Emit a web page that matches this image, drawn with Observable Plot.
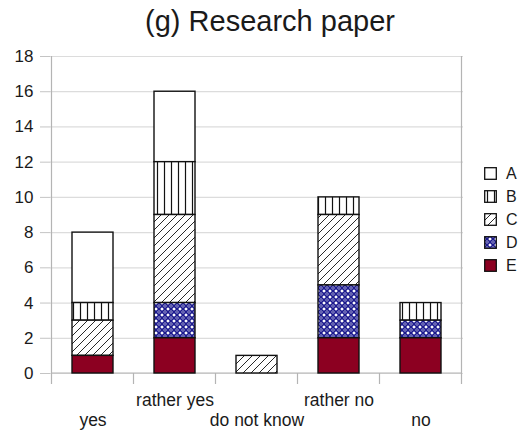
<!DOCTYPE html>
<html>
<head>
<meta charset="utf-8">
<script src="https://cdn.jsdelivr.net/npm/d3@7"></script>
<script src="https://cdn.jsdelivr.net/npm/@observablehq/plot@0.6"></script>
<style>
  html, body { margin: 0; padding: 0; background: #fff; }
  #chart { position: relative; width: 524px; height: 436px; font-family: "Liberation Sans", Arial, sans-serif; color: #1a1a1a; }
  #title { position: absolute; left: 8px; top: 3px; width: 524px; text-align: center; font-size: 29px; line-height: 36px; }
  #legend { position: absolute; left: 484px; top: 162px; font-size: 16px; }
  #legend .item { display: flex; align-items: center; height: 23px; }
  #legend svg { margin-right: 9px; }
</style>
</head>
<body>
<svg width="0" height="0" style="position:absolute">
  <defs>
    <pattern id="pat-B" patternUnits="userSpaceOnUse" width="7" height="10">
      <rect width="7" height="10" fill="#fff"/>
      <line x1="3.5" y1="0" x2="3.5" y2="10" stroke="#111" stroke-width="1.2"/>
    </pattern>
    <pattern id="pat-C" patternUnits="userSpaceOnUse" width="8" height="8">
      <rect width="8" height="8" fill="#fff"/>
      <path d="M0,8L8,0M-2,2L2,-2M6,10L10,6" stroke="#111" stroke-width="0.9"/>
    </pattern>
    <pattern id="pat-D" patternUnits="userSpaceOnUse" width="6" height="6">
      <rect width="6" height="6" fill="#fff"/>
      <path d="M0,0L6,6M6,0L0,6" stroke="#1c1a8e" stroke-width="1.7"/>
      <circle cx="3" cy="0" r="0.9" fill="#1c1a8e"/>
      <circle cx="3" cy="6" r="0.9" fill="#1c1a8e"/>
    </pattern>
  </defs>
</svg>
<div id="chart">
  <div id="title">(g) Research paper</div>
  <div id="legend"></div>
</div>
<script>
// Answers on the x axis, and the five respondent series stacked in each bar
const answers = ["yes", "rather yes", "do not know", "rather no", "no"];
const series = ["A", "B", "C", "D", "E"];
const seriesA = [4, 4, 0, 0, 0];
const seriesB = [1, 3, 0, 1, 1];
const seriesC = [2, 5, 1, 4, 0];
const seriesD = [0, 2, 0, 3, 1];
const seriesE = [1, 2, 0, 2, 2];
const yTicks = [0, 2, 4, 6, 8, 10, 12, 14, 16, 18];

const fills = {A: "#ffffff", B: "url(#pat-B)", C: "url(#pat-C)", D: "url(#pat-D)", E: "#8c0021"};
const valuesBySeries = {A: seriesA, B: seriesB, C: seriesC, D: seriesD, E: seriesE};

const rows = series.flatMap(s =>
  answers.map((a, i) => ({answer: a, series: s, count: valuesBySeries[s][i]}))
).filter(d => d.count > 0);

// Axis frame: left and right vertical lines, plus the separators between answers
function frameLines(index, scales) {
  const {x, y} = scales;
  const bw = x.bandwidth ? x.bandwidth() : 0;
  const step = x(answers[1]) - x(answers[0]);
  const centers = answers.map(a => x(a) + bw / 2);
  const bounds = centers.map(c => c - step / 2).concat([centers[centers.length - 1] + step / 2]);
  const y0 = y(0), yTop = y(d3.max(yTicks));
  const g = d3.create("svg:g").attr("stroke", "#b4b4b4").attr("stroke-width", 1.2);
  bounds.forEach((b, i) => {
    const edge = i === 0 || i === bounds.length - 1;
    g.append("line")
      .attr("x1", b).attr("x2", b)
      .attr("y1", edge ? yTop : y0).attr("y2", y0 + 11);
  });
  g.append("line").attr("x1", bounds[0]).attr("x2", bounds[bounds.length - 1]).attr("y1", y0).attr("y2", y0);
  return g.node();
}

const plot = Plot.plot({
  width: 524,
  height: 436,
  marginLeft: 50,
  marginRight: 61,
  marginTop: 56,
  marginBottom: 63,
  style: {fontFamily: "Liberation Sans, Arial, sans-serif", color: "#1a1a1a", background: "transparent"},
  x: {domain: answers, paddingInner: 0.5, paddingOuter: 0.25, axis: null},
  y: {domain: [0, 18], axis: null},
  color: {type: "identity"},
  marks: [
    Plot.gridY(yTicks, {stroke: "#dcdcdc", strokeOpacity: 1, strokeWidth: 1.2}),
    Plot.axisY(yTicks, {tickSize: 10, tickPadding: 7, fontSize: 17, stroke: "#c4c4c4", label: null, fill: "#1a1a1a"}),
    frameLines,
    Plot.barY(rows, Plot.stackY({
      x: "answer",
      y: "count",
      z: "series",
      order: ["E", "D", "C", "B", "A"],
      fill: d => fills[d.series],
      stroke: "#111",
      strokeWidth: 1.4
    })),
    Plot.text(answers.filter((a, i) => i % 2 === 1), {x: d => d, frameAnchor: "bottom", lineAnchor: "bottom", dy: 32, fontSize: 17.5, fill: "#1a1a1a"}),
    Plot.text(answers.filter((a, i) => i % 2 === 0), {x: d => d, frameAnchor: "bottom", lineAnchor: "bottom", dy: 52, fontSize: 17.5, fill: "#1a1a1a"})
  ]
});

const chart = document.getElementById("chart");
chart.insertBefore(plot, chart.firstChild);
plot.style.position = "absolute";
plot.style.left = "0";
plot.style.top = "0";

// Legend, listed top to bottom A..E
const legend = d3.select("#legend");
series.forEach(s => {
  const item = legend.append("div").attr("class", "item");
  const sw = item.append("svg").attr("width", 13).attr("height", 13);
  sw.append("rect").attr("x", 0.7).attr("y", 0.7).attr("width", 11.6).attr("height", 11.6)
    .attr("fill", fills[s]).attr("stroke", "#111").attr("stroke-width", 1.3);
  item.append("span").text(s);
});
</script>
</body>
</html>
